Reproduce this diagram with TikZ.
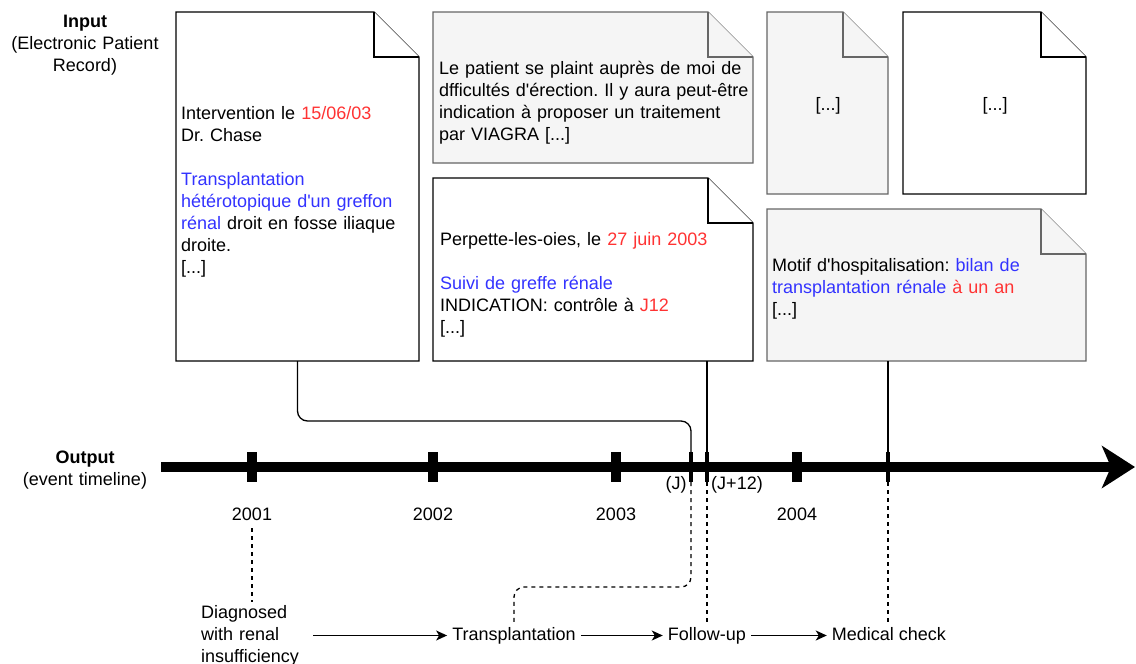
\documentclass[tikz,border=0pt]{standalone}
\usepackage{fontspec}
\setmainfont{Liberation Sans}
\usetikzlibrary{arrows.meta,calc}
\definecolor{tred}{HTML}{FF3333}
\definecolor{tblue}{HTML}{3333FF}
\definecolor{docgray}{HTML}{F5F5F5}
\definecolor{docborder}{HTML}{666666}
\newcommand{\txtr}[1]{\textcolor{tred}{#1}}
\newcommand{\txtb}[1]{\textcolor{tblue}{#1}}
\newcommand{\elide}{[...]}
\newcommand{\ap}{\textquotesingle}
\frenchspacing
% #1 name, #2 x1, #3 y1, #4 x2, #5 y2, #6 style
\newcommand{\docpage}[6]{%
  \path[#6] (#2,#3) -- ({#4-45},#3) -- (#4,{#3+45}) -- (#4,#5) -- (#2,#5) -- cycle;
  \draw[#6] ({#4-45},#3) -- ({#4-45},{#3+45}) -- (#4,{#3+45});
  \node[inner sep=0pt, outer sep=0pt, minimum width={(#4-#2)*1pt}, minimum height={(#5-#3)*1pt}] (#1) at ({(#2+#4)/2},{(#3+#5)/2}) {};
}
\tikzset{
  whitedoc/.style={draw=black, fill=white, line width=1.3pt, line join=miter},
  graydoc/.style={draw=docborder, fill=docgray, line width=1.3pt, line join=miter},
  doctext/.style={anchor=base west, align=left, inner sep=0pt, text width=360pt},
  bigtick/.style={fill=black, inner sep=0pt, minimum width=10pt, minimum height=30pt},
  smalltick/.style={fill=black, inner sep=0pt, minimum width=4pt, minimum height=30pt},
  yearlab/.style={anchor=base, inner sep=0pt, outer sep=0pt},
  conn/.style={line width=1.3pt},
  dashline/.style={line width=1.3pt, dash pattern=on 4pt off 4pt},
  flow/.style={line width=1.3pt, -{Stealth[length=11pt,width=10pt,inset=3pt]}},
  evt/.style={anchor=base, inner xsep=5pt, inner ysep=3pt, text height=13pt, text depth=4pt},
}
\begin{document}
\begin{tikzpicture}[x=1pt, y=-1pt, font=\fontsize{18}{22}\selectfont]
\useasboundingbox (0,0) rectangle (1136,664);

% documents
\docpage{d1}{176}{12}{419}{361}{whitedoc}
\docpage{d2}{433}{12}{753}{163}{graydoc}
\docpage{d3}{433}{178}{753}{361}{whitedoc}
\docpage{d4}{767}{12}{888}{194}{graydoc}
\docpage{d5}{903}{12}{1086}{194}{whitedoc}
\docpage{d6}{767}{209}{1086}{361}{graydoc}

\node[doctext] (t1) at (181,119) {Intervention le \txtr{15/06/03}\\Dr. Chase\\[22pt]\txtb{Transplantation}\\\txtb{hétérotopique d\ap un greffon}\\\txtb{rénal} droit en fosse iliaque\\droite.\\\elide};
\node[doctext] (t2) at (439,74) {Le patient se plaint auprès de moi de\\dfficultés d\ap érection. Il y aura peut-être\\indication à proposer un traitement\\par VIAGRA \elide};
\node[doctext] (t3) at (440,245) {Perpette-les-oies, le \txtr{27 juin 2003}\\[22pt]\txtb{Suivi de greffe rénale}\\INDICATION: contrôle à \txtr{J12}\\\elide};
\node[yearlab] (t4) at (828,110) {\elide};
\node[yearlab] (t5) at (995,110) {\elide};
\node[doctext] (t6) at (772,271) {Motif d\ap hospitalisation: \txtb{bilan de}\\\txtb{transplantation rénale} \txtr{à un an}\\\elide};

% side labels
\node[anchor=base, align=center, inner sep=0pt, text width=170pt] (inlab) at (85,27) {\textbf{Input}\\(Electronic Patient\\Record)};
\node[anchor=base, align=center, inner sep=0pt, text width=170pt] (outlab) at (85,463) {\textbf{Output}\\(event timeline)};

% timeline
\coordinate (tl0) at (161,467);
\coordinate (tl1) at (1135,467);
\draw[line width=10pt, -{Stealth[length=33pt,width=42pt,inset=9pt]}] (tl0) -- (tl1);
\node[bigtick] (t2001) at (252,467) {};
\node[bigtick] (t2002) at (433,467) {};
\node[bigtick] (t2003) at (616,467) {};
\node[smalltick] (tJ) at (691,467) {};
\node[smalltick] (tJ12) at (707,467) {};
\node[bigtick] (t2004) at (797,467) {};
\node[smalltick] (tMed) at (888,467) {};

\node[yearlab] (y2001) at (252,520) {2001};
\node[yearlab] (y2002) at (433,520) {2002};
\node[yearlab] (y2003) at (616,520) {2003};
\node[yearlab] (y2004) at (797,520) {2004};
\node[yearlab] (lJ) at (676,489) {(J)};
\node[yearlab] (lJ12) at (737,489) {(J+12)};

% connectors from documents
\draw[conn, rounded corners=10pt] (d1.south) |- (tJ.north |- 0,421) -- (tJ.north);
\draw[conn] (tJ12.north |- d3.south) -- (tJ12.north);
\draw[conn] (tMed.north |- d6.south) -- (tMed.north);

% events
\node[anchor=base west, align=left, inner xsep=4pt, inner ysep=3pt, text width=108pt] (diag) at (197,618) {Diagnosed\\with renal\\insufficiency};
\node[evt] (trans) at (514,640) {Transplantation};
\node[evt] (follow) at (707,640) {Follow-up};
\node[evt] (medc) at (889,640) {Medical check};

\draw[flow] (diag.east |- trans.center) -- (trans.west);
\draw[flow] (trans.east) -- (follow.west);
\draw[flow] (follow.east) -- (medc.west);

% dashed links
\draw[dashline] (y2001.south) ++(0,8) coordinate (ds1) -- (ds1 |- diag.north);
\draw[dashline, rounded corners=10pt] (tJ.south) |- (trans.north |- 0,587) -- (trans.north);
\draw[dashline] (tJ12.south) -- (tJ12.south |- follow.north);
\draw[dashline] (tMed.south) -- (tMed.south |- medc.north);
\end{tikzpicture}
\end{document}
